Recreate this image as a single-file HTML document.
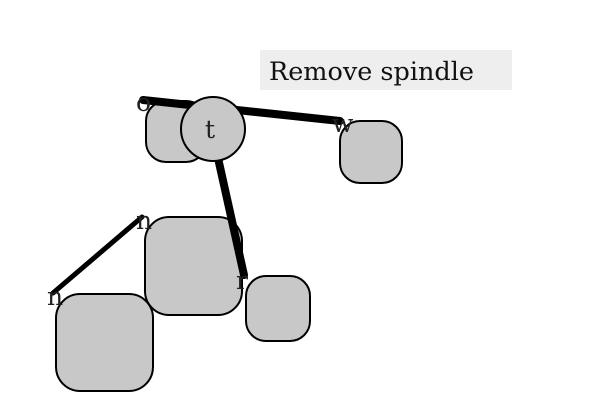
<!DOCTYPE html>
<html><head><style>body{margin:0;background:#fff}</style></head><body>
<svg width="600" height="400" xmlns="http://www.w3.org/2000/svg" style="display:block">
<rect x="260" y="50" width="252" height="40" fill="#eeeeee"/>
<text x="269" y="80" font-family="DejaVu Serif, Liberation Serif, serif" font-size="25.5" fill="#111">Remove spindle</text>
<rect x="146" y="101" width="60" height="61" rx="20" fill="#c8c8c8" stroke="#000" stroke-width="2"/>
<rect x="340" y="121" width="62" height="62" rx="20" fill="#c8c8c8" stroke="#000" stroke-width="2"/>
<rect x="145" y="217" width="97" height="98" rx="24" fill="#c8c8c8" stroke="#000" stroke-width="2"/>
<rect x="246" y="276" width="64" height="65" rx="20" fill="#c8c8c8" stroke="#000" stroke-width="2"/>
<rect x="56" y="294" width="97" height="97" rx="24" fill="#c8c8c8" stroke="#000" stroke-width="2"/>
<line x1="143" y1="100" x2="340" y2="121" stroke="#000" stroke-width="8" stroke-linecap="round"/>
<line x1="218" y1="158" x2="244" y2="275" stroke="#000" stroke-width="8" stroke-linecap="round"/>
<line x1="142" y1="217" x2="53" y2="293" stroke="#000" stroke-width="5" stroke-linecap="round"/>
<circle cx="213" cy="129" r="32" fill="#c8c8c8" stroke="#000" stroke-width="2"/>
<g font-family="DejaVu Serif, Liberation Serif, serif" font-size="25" fill="#222">
<text x="210" y="138" text-anchor="middle">t</text>
<text x="136" y="111">o</text>
<text x="332" y="132">w</text>
<text x="136" y="229">n</text>
<text x="236" y="289">r</text>
<text x="47" y="305">n</text>
</g>
</svg>
</body></html>
